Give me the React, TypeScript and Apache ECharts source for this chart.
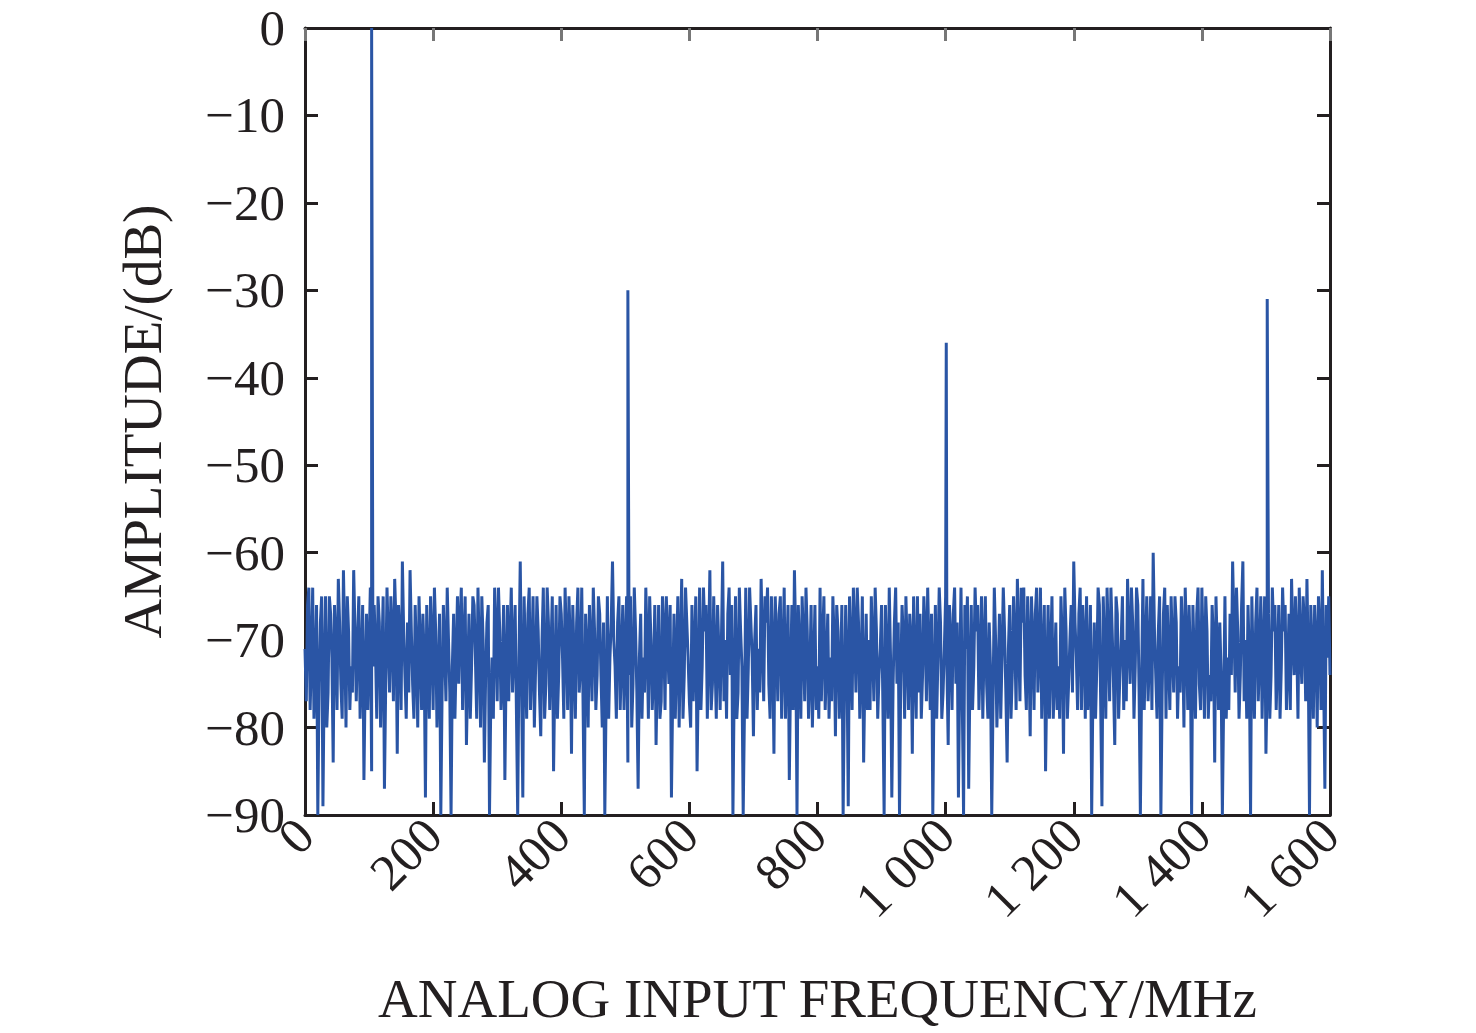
import React, { useEffect, useRef } from "react";
import * as echarts from "echarts";

// Sample spacing of the noise trace (MHz)
const NOISE_STEP_MHZ = 2;

// Noise floor amplitude (dB), one value every 2 MHz from 0 to 1600 MHz (40 MHz per row)
const noiseDb: number[] = [
  -71,-77,-66,-64,-78,-72,-64,-79,-74,-66,-90,-75,-68,-65,-89,-74,-65,-80,-76,-65,
  -67,-72,-84,-66,-70,-78,-63,-68,-75,-79,-62,-70,-80,-65,-69,-78,-73,-76,-62,-69,
  -77,-70,-65,-79,-73,-66,-86,-74,-67,-78,-71,-64,-85,-73,-66,-71,-79,-65,-68,-80,
  -72,-65,-87,-75,-64,-70,-76,-65,-69,-77,-63,-68,-83,-66,-70,-78,-61,-69,-74,-79,
  -68,-76,-62,-69,-75,-79,-66,-72,-80,-65,-71,-78,-67,-72,-88,-66,-73,-79,-65,-70,
  -78,-64,-69,-80,-74,-67,-90,-76,-66,-71,-77,-64,-70,-76,-90,-73,-67,-79,-72,-65,
  -75,-68,-64,-78,-70,-65,-82,-74,-67,-79,-73,-65,-66,-72,-79,-64,-71,-80,-65,-70,
  -84,-74,-68,-66,-90,-77,-72,-79,-64,-69,-77,-64,-69,-78,-74,-66,-86,-73,-66,-77,
  -70,-64,-76,-71,-66,-78,-90,-72,-61,-75,-88,-65,-72,-79,-67,-64,-78,-72,-65,-80,
  -73,-65,-69,-76,-81,-70,-64,-79,-75,-64,-68,-78,-71,-65,-85,-74,-66,-79,-74,-65,
  -67,-72,-79,-64,-70,-78,-65,-70,-83,-66,-72,-79,-68,-64,-76,-73,-64,-77,-90,-67,
  -71,-80,-66,-71,-77,-64,-69,-78,-74,-65,-67,-74,-80,-68,-90,-77,-65,-79,-72,-68,
  -61,-70,-73,-79,-68,-65,-78,-72,-66,-78,-71,-65,-84,-74,-65,-80,-75,-64,-69,-76,
  -87,-72,-67,-79,-72,-76,-64,-70,-79,-65,-70,-78,-74,-66,-82,-73,-66,-79,-77,-65,
  -69,-78,-65,-70,-75,-66,-88,-76,-67,-79,-72,-65,-80,-71,-63,-79,-74,-64,-68,-72,
  -77,-80,-66,-77,-71,-65,-85,-74,-64,-78,-73,-64,-69,-66,-79,-71,-62,-78,-75,-65,
  -72,-79,-66,-71,-78,-70,-61,-77,-70,-79,-67,-64,-74,-66,-90,-75,-65,-79,-76,-64,
  -69,-73,-90,-78,-64,-79,-73,-64,-68,-72,-81,-70,-66,-78,-71,-76,-63,-70,-77,-65,
  -68,-64,-75,-79,-65,-71,-83,-65,-70,-77,-67,-65,-79,-72,-64,-79,-72,-66,-86,-74,
  -66,-78,-62,-70,-90,-66,-71,-79,-65,-70,-77,-64,-69,-79,-74,-66,-80,-73,-66,-78,
  -73,-79,-64,-77,-70,-65,-78,-73,-67,-79,-72,-77,-65,-70,-81,-66,-69,-79,-74,-66,
  -90,-76,-66,-72,-89,-65,-71,-78,-64,-69,-76,-64,-68,-79,-73,-65,-84,-74,-67,-78,
  -70,-78,-65,-71,-77,-64,-69,-79,-74,-71,-66,-77,-90,-66,-72,-79,-64,-72,-88,-75,
  -68,-64,-75,-68,-90,-74,-66,-70,-79,-65,-71,-78,-67,-70,-83,-65,-73,-79,-65,-76,
  -67,-79,-74,-65,-69,-77,-64,-71,-78,-67,-90,-75,-66,-79,-72,-64,-68,-79,-76,-71,
  -65,-73,-82,-66,-70,-78,-67,-64,-75,-68,-88,-74,-64,-77,-90,-66,-71,-65,-87,-74,
  -66,-78,-73,-64,-69,-66,-78,-72,-65,-79,-71,-65,-75,-79,-68,-73,-90,-77,-64,-70,
  -80,-74,-67,-79,-72,-64,-69,-76,-84,-71,-66,-79,-74,-65,-70,-78,-63,-70,-77,-64,
  -68,-64,-74,-78,-65,-71,-81,-65,-70,-78,-67,-64,-76,-71,-64,-79,-72,-66,-85,-74,
  -66,-79,-71,-65,-79,-74,-68,-78,-73,-79,-65,-70,-83,-64,-69,-79,-75,-70,-66,-76,
  -61,-68,-72,-78,-67,-64,-78,-66,-70,-79,-65,-78,-74,-66,-90,-75,-68,-79,-73,-64,
  -66,-77,-89,-65,-71,-79,-64,-70,-77,-64,-69,-75,-82,-65,-67,-79,-74,-70,-65,-78,
  -70,-77,-63,-70,-75,-64,-68,-79,-73,-64,-66,-76,-90,-74,-63,-78,-71,-65,-77,-72,
  -65,-78,-60,-69,-74,-79,-69,-65,-90,-76,-67,-64,-79,-66,-72,-78,-65,-71,-76,-65,
  -68,-79,-73,-76,-65,-70,-80,-64,-70,-78,-66,-72,-90,-66,-72,-79,-67,-64,-75,-78,
  -64,-71,-79,-65,-69,-79,-74,-77,-66,-70,-84,-65,-71,-78,-68,-74,-90,-77,-65,-79,
  -72,-78,-67,-74,-61,-68,-76,-64,-69,-79,-74,-66,-61,-77,-70,-79,-66,-72,-90,-65,
  -73,-79,-68,-64,-77,-72,-65,-79,-71,-65,-83,-74,-67,-79,-74,-64,-69,-66,-78,-72,
  -66,-79,-73,-64,-69,-66,-78,-73,-67,-78,-63,-70,-74,-65,-70,-79,-64,-71,-75,-65,
  -68,-77,-63,-72,-90,-66,-71,-79,-66,-70,-80,-65,-69,-78,-62,-74,-87,-66,-72,-65,
  -74,
];

// Signal tone and harmonic spurs
const spikeFreqMHz: number[] = [104, 504, 1001, 1502];
const spikeDb: number[] = [0, -30, -36, -31];

// Axis ranges
const xMin = 0;
const xMax = 1600;
const xStep = 200;
const yMin = -90;
const yMax = 0;
const yStep = 10;

const INK = "#231f20";
const FONT = "'Liberation Serif', 'Times New Roman', serif";

function buildPoints(): [number, number][] {
  const pts: [number, number][] = noiseDb.map((v, i) => [i * NOISE_STEP_MHZ, v]);
  spikeFreqMHz.forEach((f, i) => pts.push([f, spikeDb[i]]));
  pts.sort((a, b) => a[0] - b[0]);
  return pts;
}

const fmtX = (v: number) => {
  const s = String(Math.round(v));
  return s.length > 3 ? s.slice(0, s.length - 3) + " " + s.slice(s.length - 3) : s;
};
const fmtY = (v: number) => (v < 0 ? "\u2212" + String(Math.abs(v)) : String(v));

export default function App() {
  const ref = useRef<HTMLDivElement>(null);

  useEffect(() => {
    if (!ref.current) return;
    const chart = echarts.init(ref.current, undefined, { renderer: "svg" });
    const frameLine = { show: true, onZero: false, lineStyle: { color: INK, width: 3 } };
    const innerTick = { show: true, inside: true, length: 13, lineStyle: { color: INK, width: 3 } };
    chart.setOption({
      animation: false,
      backgroundColor: "#ffffff",
      grid: { left: 305, right: 146, top: 28, bottom: 218, containLabel: false },
      xAxis: [
        {
          type: "value",
          min: xMin,
          max: xMax,
          interval: xStep,
          position: "bottom",
          axisLine: frameLine,
          axisTick: innerTick,
          splitLine: { show: false },
          axisLabel: {
            rotate: 45,
            margin: 12,
            formatter: fmtX,
            color: INK,
            fontFamily: FONT,
            fontSize: 51,
          },
          name: "ANALOG INPUT FREQUENCY/MHz",
          nameLocation: "middle",
          nameGap: 156,
          nameTextStyle: { color: INK, fontFamily: FONT, fontSize: 55 },
        },
        {
          type: "value",
          min: xMin,
          max: xMax,
          interval: xStep,
          position: "top",
          axisLine: frameLine,
          axisTick: { ...innerTick, lineStyle: { color: "#777777", width: 3 } },
          axisLabel: { show: false },
          splitLine: { show: false },
        },
      ],
      yAxis: [
        {
          type: "value",
          min: yMin,
          max: yMax,
          interval: yStep,
          position: "left",
          axisLine: frameLine,
          axisTick: innerTick,
          splitLine: { show: false },
          axisLabel: {
            margin: 20,
            formatter: fmtY,
            color: INK,
            fontFamily: FONT,
            fontSize: 51,
          },
          name: "AMPLITUDE/(dB)",
          nameLocation: "middle",
          nameGap: 135,
          nameTextStyle: { color: INK, fontFamily: FONT, fontSize: 55 },
        },
        {
          type: "value",
          min: yMin,
          max: yMax,
          interval: yStep,
          position: "right",
          axisLine: frameLine,
          axisTick: innerTick,
          axisLabel: { show: false },
          splitLine: { show: false },
        },
      ],
      series: [
        {
          type: "line",
          data: buildPoints(),
          showSymbol: false,
          symbol: "none",
          clip: true,
          lineStyle: { color: "#2a55a5", width: 3 },
          itemStyle: { color: "#2a55a5" },
        },
      ],
    });
    return () => chart.dispose();
  }, []);

  return (
    <div
      ref={ref}
      style={{ position: "fixed", left: 0, top: 0, width: 1476, height: 1033, background: "#fff" }}
    />
  );
}
